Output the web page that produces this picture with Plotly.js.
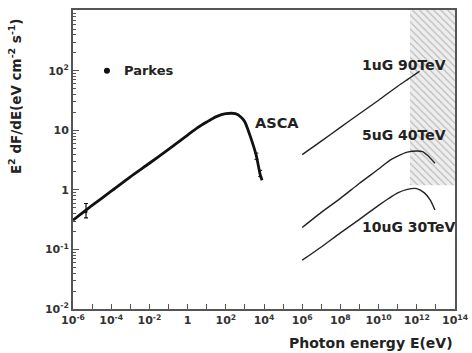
<!DOCTYPE html>
<html>
<head>
<meta charset="utf-8">
<script src="https://cdn.plot.ly/plotly-3.0.1.min.js"></script>
<style>html,body{margin:0;padding:0;background:#fff;}#chart{width:472px;height:353px;}</style>
</head>
<body>
<div id="chart"></div>
<script>
// Synchrotron spectrum (radio to X-ray)
const synE = [1e-6, 1e-5, 1e-4, 1e-3, 1e-2, 1e-1, 1, 3.2, 10, 32, 100, 316, 631, 1000, 2000, 4000, 6300, 7900];
const synF = [0.31, 0.55, 0.95, 1.66, 2.8, 4.8, 8.3, 11, 13.8, 17, 19, 19, 16.6, 13.8, 7.6, 3.7, 1.8, 1.45];

// Inverse-Compton model curves
const ic1E = [1e6, 1e7, 1e8, 1e9, 1e10, 1e11, 3.2e11, 1e12, 1.4e12];
const ic1F = [3.9, 6.6, 11.2, 19, 32, 55, 71, 91, 98];
const ic2E = [1e6, 1e7, 1e8, 1e9, 1e10, 4e10, 1e11, 3.2e11, 1e12, 2e12, 4e12, 8.9e12];
const ic2F = [0.234, 0.42, 0.72, 1.29, 2.24, 3.16, 3.7, 4.3, 4.5, 4.4, 3.7, 2.8];
const ic3E = [1e6, 1e7, 1e8, 1e9, 1e10, 3.2e10, 1e11, 3.2e11, 1e12, 2.5e12, 5e12, 8.9e12];
const ic3F = [0.066, 0.11, 0.19, 0.32, 0.55, 0.71, 0.89, 1.02, 1.05, 0.89, 0.68, 0.46];

// Data points
const parkesE = [4.8e-6];
const parkesF = [0.43];
const parkesErrUp = [0.16];
const parkesErrDn = [0.09];
const ascaE = [4000, 6300];
const ascaF = [3.7, 1.9];

// Legend-like marker for Parkes
const parkesKeyE = [6e-5];
const parkesKeyF = [100];

// Hatched excluded region
const bandE = [4.4e11, 1e14, 1e14, 4.4e11, 4.4e11];
const bandF = [1.2, 1.2, 1050, 1050, 1.2];

// Tick labels
const xTickVals = [1e-6, 1e-4, 1e-2, 1, 1e2, 1e4, 1e6, 1e8, 1e10, 1e12, 1e14];
const xTickText = ['10<sup>-6</sup>', '10<sup>-4</sup>', '10<sup>-2</sup>', '1', '10<sup>2</sup>', '10<sup>4</sup>', '10<sup>6</sup>', '10<sup>8</sup>', '10<sup>10</sup>', '10<sup>12</sup>', '10<sup>14</sup>'];
const yTickVals = [0.01, 0.1, 1, 10, 100];
const yTickText = ['10<sup>-2</sup>', '10<sup>-1</sup>', '1', '10', '10<sup>2</sup>'];

const xMinor = [];
for (let p = -5; p <= 13; p += 2) xMinor.push(Math.pow(10, p));
const yMinor = [];
for (let p = -2; p <= 2; p++) for (let m = 2; m <= 9; m++) yMinor.push(m * Math.pow(10, p));

const font = {family: 'DejaVu Sans, Liberation Sans, sans-serif', size: 12, color: '#222', weight: 'bold'};
const f = (size, color) => Object.assign({}, font, {size: size}, color ? {color: color} : {});

const traces = [
  {x: bandE, y: bandF, type: 'scatter', mode: 'lines', fill: 'toself', line: {width: 0, color: 'rgba(0,0,0,0)'},
   fillcolor: '#ececec', fillpattern: {shape: '\\', fgcolor: '#bcbcbc', bgcolor: '#eeeeee', size: 5, solidity: 0.25},
   hoverinfo: 'skip', showlegend: false},
  {x: synE, y: synF, type: 'scatter', mode: 'lines', line: {color: '#111', width: 2.8, shape: 'spline', smoothing: 0.6}, showlegend: false},
  {x: ic1E, y: ic1F, type: 'scatter', mode: 'lines', line: {color: '#222', width: 1.4, shape: 'spline', smoothing: 0.6}, showlegend: false},
  {x: ic2E, y: ic2F, type: 'scatter', mode: 'lines', line: {color: '#222', width: 1.4, shape: 'spline', smoothing: 0.6}, showlegend: false},
  {x: ic3E, y: ic3F, type: 'scatter', mode: 'lines', line: {color: '#222', width: 1.4, shape: 'spline', smoothing: 0.6}, showlegend: false},
  {x: parkesE, y: parkesF, type: 'scatter', mode: 'markers', marker: {color: '#111', size: 3},
   error_y: {type: 'data', symmetric: false, array: parkesErrUp, arrayminus: parkesErrDn, color: '#111', thickness: 1.2, width: 2}, showlegend: false},
  {x: ascaE, y: ascaF, type: 'scatter', mode: 'markers', marker: {color: '#111', size: 2},
   error_y: {type: 'percent', value: 12, color: '#111', thickness: 1, width: 2}, showlegend: false},
  {x: parkesKeyE, y: parkesKeyF, type: 'scatter', mode: 'markers', marker: {color: '#111', size: 6}, showlegend: false}
];

const ann = (x, y, text, size) => ({x: x, y: y, xref: 'x', yref: 'y', text: text, showarrow: false,
  xanchor: 'left', yanchor: 'middle', font: f(size)});

const layout = {
  width: 472, height: 353,
  margin: {l: 73, r: 17, t: 10, b: 44},
  paper_bgcolor: '#fff', plot_bgcolor: '#fff',
  font: font,
  xaxis: {type: 'log', range: [-6, 14], tickvals: xTickVals, ticktext: xTickText,
    ticks: 'inside', ticklen: 5, tickcolor: '#555', tickwidth: 1,
    minor: {tickvals: xMinor, ticks: 'inside', ticklen: 5, tickcolor: '#555', showgrid: false},
    showgrid: false, zeroline: false, showline: true, linecolor: '#555', linewidth: 2, mirror: true,
    tickfont: f(11, '#333')},
  yaxis: {type: 'log', range: [-2, 3.02], tickvals: yTickVals, ticktext: yTickText,
    ticks: 'inside', ticklen: 6, tickcolor: '#555', tickwidth: 1,
    minor: {tickvals: yMinor, ticks: 'inside', ticklen: 3, tickcolor: '#555', showgrid: false},
    showgrid: false, zeroline: false, showline: true, linecolor: '#555', linewidth: 2, mirror: true,
    tickfont: f(11, '#333')},
  annotations: [
    ann(-3.45, 2.0, 'Parkes', 13),
    ann(3.42, 1.12, 'ASCA', 14.5),
    ann(9.03, 2.1, '1uG 90TeV', 14),
    ann(9.03, 0.92, '5uG 40TeV', 14),
    ann(9.03, -0.62, '10uG 30TeV', 14),
    {xref: 'paper', yref: 'paper', x: 1, y: -0.114, xanchor: 'right', yanchor: 'middle', showarrow: false,
     text: 'Photon energy E(eV)', font: f(14)},
    {xref: 'paper', yref: 'paper', x: -0.15, y: 0.711, xanchor: 'center', yanchor: 'middle', showarrow: false, textangle: -90,
     text: 'E<sup>2</sup> dF/dE(eV cm<sup>-2</sup> s<sup>-1</sup>)', font: f(13.5)}
  ]
};

Plotly.newPlot('chart', traces, layout, {displayModeBar: false, staticPlot: true});
</script>
</body>
</html>
